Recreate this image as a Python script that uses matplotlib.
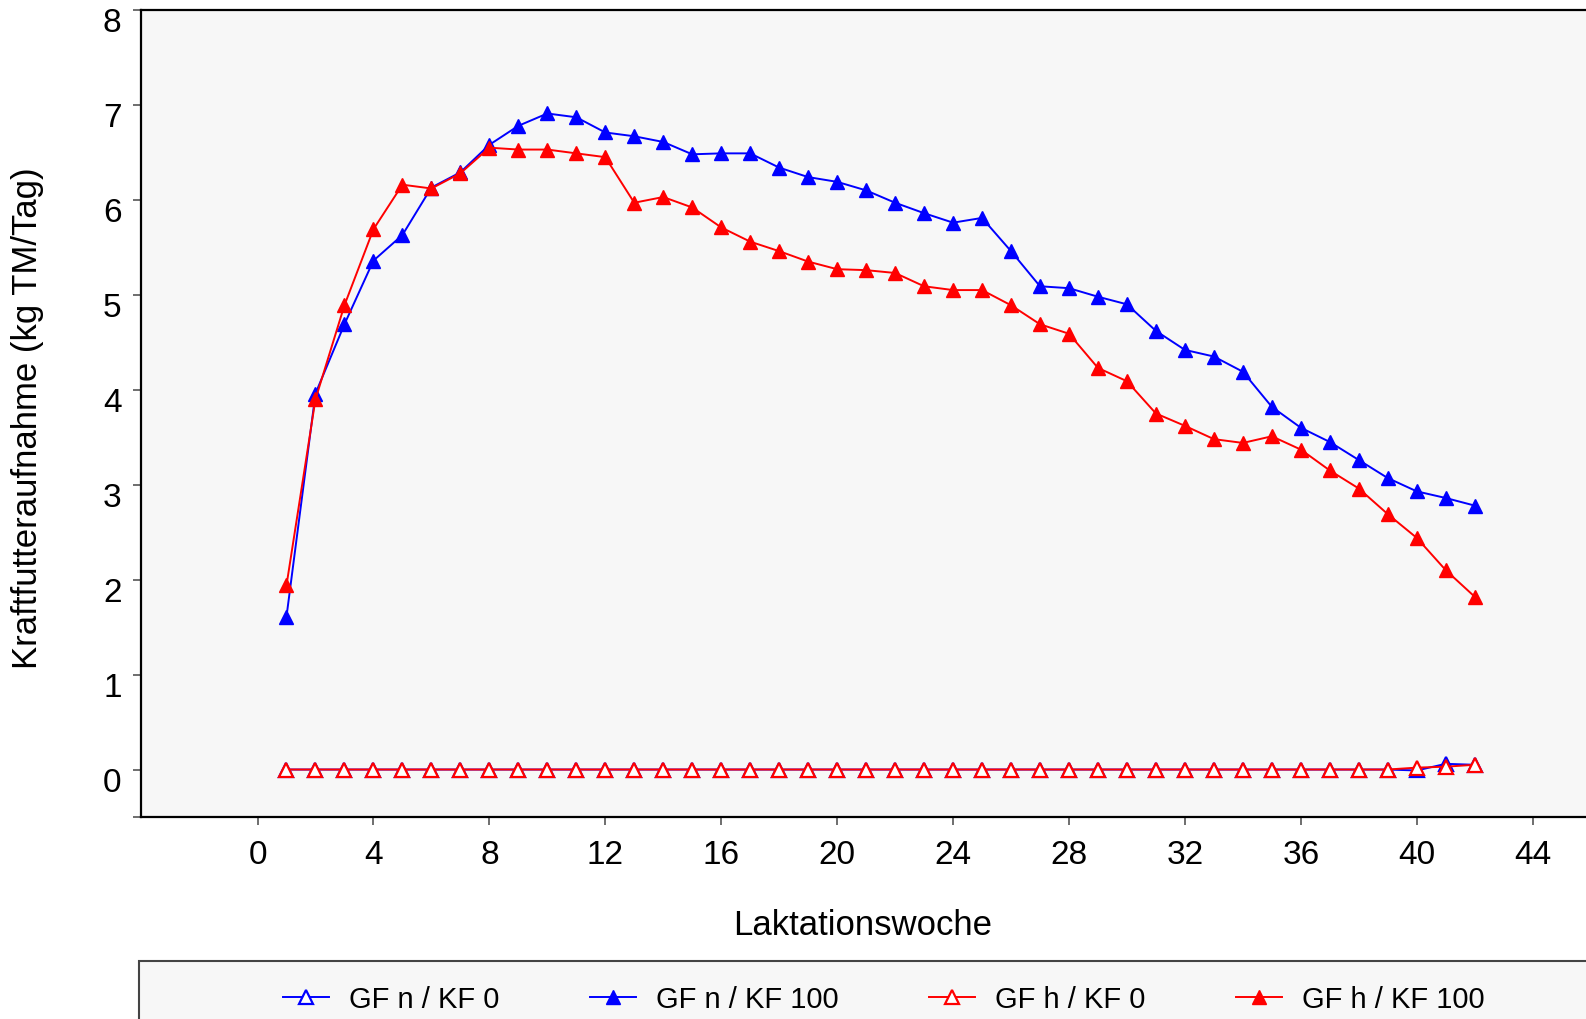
import matplotlib
matplotlib.use("Agg")
import matplotlib.pyplot as plt
import matplotlib.transforms as mtransforms
from matplotlib.patches import Rectangle

plt.rcParams['font.family'] = ['Liberation Sans', 'DejaVu Sans']

weeks = [1, 2, 3, 4, 5, 6, 7, 8, 9, 10, 11, 12, 13, 14, 15, 16, 17, 18, 19, 20, 21,
         22, 23, 24, 25, 26, 27, 28, 29, 30, 31, 32, 33, 34, 35, 36, 37, 38, 39, 40, 41, 42]

gfn_kf0 = [0.00, 0.00, 0.00, 0.00, 0.00, 0.00, 0.00, 0.00, 0.00, 0.00, 0.00, 0.00, 0.00, 0.00,
           0.00, 0.00, 0.00, 0.00, 0.00, 0.00, 0.00, 0.00, 0.00, 0.00, 0.00, 0.00, 0.00, 0.00,
           0.00, 0.00, 0.00, 0.00, 0.00, 0.00, 0.00, 0.00, 0.00, 0.00, 0.00, -0.01, 0.06, 0.05]

gfn_kf100 = [1.61, 3.96, 4.69, 5.36, 5.63, 6.13, 6.29, 6.58, 6.78, 6.91, 6.87, 6.71, 6.67, 6.61,
             6.48, 6.49, 6.49, 6.34, 6.24, 6.19, 6.10, 5.97, 5.86, 5.76, 5.81, 5.46, 5.09, 5.07,
             4.98, 4.90, 4.62, 4.42, 4.35, 4.19, 3.82, 3.60, 3.45, 3.26, 3.07, 2.93, 2.86, 2.78]

gfh_kf0 = [0.00, 0.00, 0.00, 0.00, 0.00, 0.00, 0.00, 0.00, 0.00, 0.00, 0.00, 0.00, 0.00, 0.00,
           0.00, 0.00, 0.00, 0.00, 0.00, 0.00, 0.00, 0.00, 0.00, 0.00, 0.00, 0.00, 0.00, 0.00,
           0.00, 0.00, 0.00, 0.00, 0.00, 0.00, 0.00, 0.00, 0.00, 0.00, 0.00, 0.02, 0.03, 0.05]

gfh_kf100 = [1.94, 3.90, 4.89, 5.69, 6.16, 6.12, 6.28, 6.55, 6.53, 6.53, 6.49, 6.45, 5.97, 6.03,
             5.92, 5.71, 5.56, 5.46, 5.35, 5.27, 5.26, 5.23, 5.09, 5.05, 5.05, 4.89, 4.69, 4.59,
             4.23, 4.09, 3.75, 3.62, 3.48, 3.44, 3.51, 3.37, 3.15, 2.96, 2.69, 2.44, 2.10, 1.82]

series_labels = ["GF n / KF 0", "GF n / KF 100", "GF h / KF 0", "GF h / KF 100"]
x_ticks = [0, 4, 8, 12, 16, 20, 24, 28, 32, 36, 40, 44]
y_ticks = [-0.5, 0, 1, 2, 3, 4, 5, 6, 7, 8]
y_tick_labels = ["", "0", "1", "2", "3", "4", "5", "6", "7", "8"]
x_label = "Laktationswoche"
y_label = "Kraftfutteraufnahme (kg TM/Tag)"

W, H = 1586, 1020
fig = plt.figure(figsize=(W / 100, H / 100), dpi=100)
ax = fig.add_axes([141 / W, 1 - 818 / H, 1 - 141 / W, (818 - 11) / H])
ax.set_facecolor('#F7F7F7')

blue = '#0000FF'
red = '#FF0000'
ms = 9.5
lw = 1.4

l1, = ax.plot(weeks, gfn_kf0, color=blue, lw=lw, marker='^', ms=ms, mfc='white',
              mec=blue, mew=1.6, label=series_labels[0])
l2, = ax.plot(weeks, gfn_kf100, color=blue, lw=lw, marker='^', ms=ms, mfc=blue,
              mec=blue, label=series_labels[1])
l3, = ax.plot(weeks, gfh_kf0, color=red, lw=lw, marker='^', ms=ms, mfc='white',
              mec=red, mew=1.6, label=series_labels[2])
l4, = ax.plot(weeks, gfh_kf100, color=red, lw=lw, marker='^', ms=ms, mfc=red,
              mec=red, label=series_labels[3])

ax.set_xlim(-4.02, 45.84)
ax.set_ylim(-0.5, 8)
ax.set_xticks(x_ticks)
ax.set_xticklabels([str(t) for t in x_ticks])
ax.set_yticks(y_ticks)
ax.set_yticklabels(y_tick_labels)

for s in ['left', 'top', 'bottom']:
    ax.spines[s].set_linewidth(1.6)
    ax.spines[s].set_color('black')
ax.spines['right'].set_visible(False)

ax.tick_params(axis='both', direction='out', length=6, width=1.2, colors='#555555',
               labelcolor='black', labelsize=24)
ax.tick_params(axis='x', pad=10)
ax.tick_params(axis='y', pad=8)

offset = mtransforms.ScaledTranslation(0, -9 / 100, fig.dpi_scale_trans)
for lab in ax.get_yticklabels():
    lab.set_transform(lab.get_transform() + offset)

fig.text(863 / W, 1 - 926 / H, x_label, ha='center', va='center', fontsize=25)
fig.text(28 / W, 1 - 418 / H, y_label, ha='center', va='center', rotation=90, fontsize=25)

# legend frame
rect = Rectangle((139 / W, -0.01), 1.0, (1020 - 962) / H + 0.01, transform=fig.transFigure,
                 facecolor='#F7F7F7', edgecolor='#444444', lw=1.5, zorder=0)
fig.patches.append(rect)

leg = fig.legend(handles=[l1, l2, l3, l4], labels=series_labels, ncol=4,
                 loc='center left', bbox_to_anchor=(283 / W, 1 - 1000 / H),
                 frameon=False, fontsize=21, borderpad=0, borderaxespad=0,
                 handlelength=1.58, handletextpad=0.69, columnspacing=3.1, numpoints=1)

fig.savefig('out.png', dpi=100)
